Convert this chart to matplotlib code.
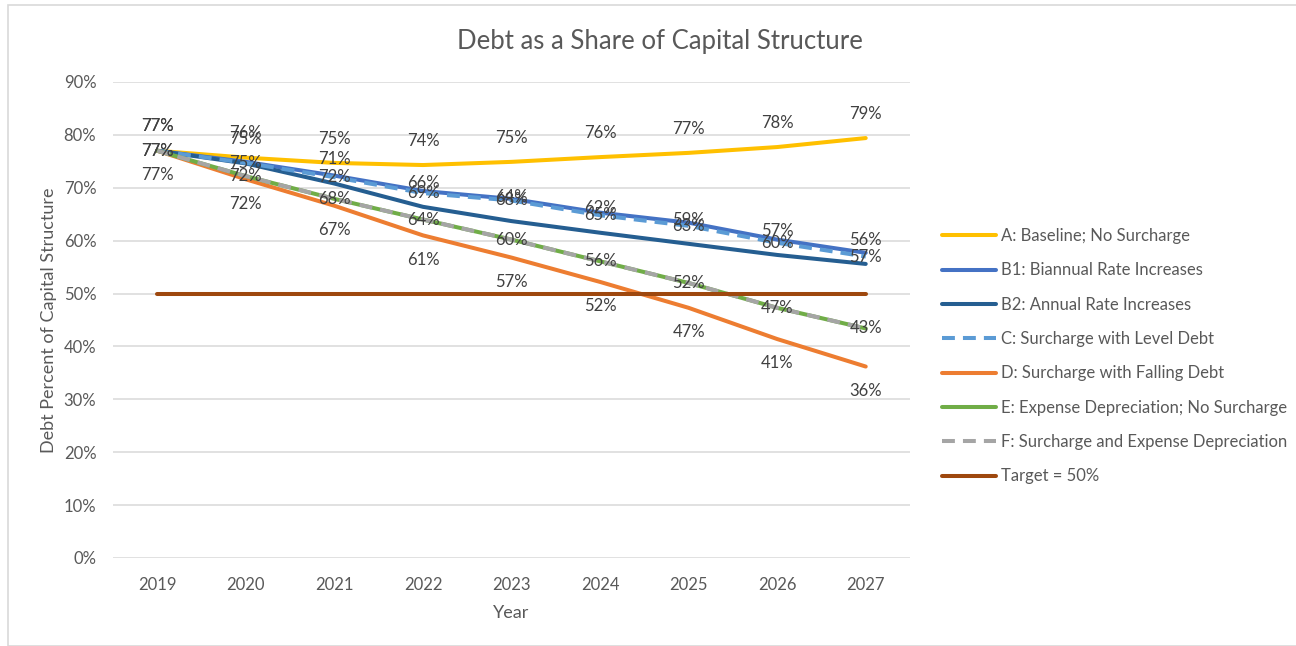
import matplotlib
matplotlib.use("Agg")
import matplotlib.pyplot as plt
from matplotlib.lines import Line2D
from matplotlib.patches import Rectangle

plt.rcParams['font.family'] = ['Lato', 'DejaVu Sans']

years = [2019, 2020, 2021, 2022, 2023, 2024, 2025, 2026, 2027]

a_baseline = [77.0, 75.7, 74.7, 74.3, 74.9, 75.8, 76.6, 77.7, 79.4]
b1_biannual = [77.0, 74.9, 72.3, 69.4, 67.9, 65.3, 63.4, 60.2, 57.7]
b2_annual = [77.0, 74.6, 70.8, 66.4, 63.7, 61.5, 59.4, 57.3, 55.6]
c_level_debt = [77.0, 74.7, 72.0, 69.0, 67.6, 64.8, 62.8, 59.6, 57.0]
d_falling_debt = [77.0, 71.6, 66.6, 61.0, 56.8, 52.2, 47.3, 41.4, 36.2]
e_expense_dep = [77.0, 72.2, 67.9, 64.0, 60.2, 56.1, 52.0, 47.3, 43.4]
f_surcharge_dep = [77.0, 72.2, 67.9, 64.0, 60.2, 56.1, 52.0, 47.3, 43.4]
target = [50.0] * 9

series = [
    ("A: Baseline; No Surcharge", a_baseline, "#FFC000", "-", "above"),
    ("B1: Biannual Rate Increases", b1_biannual, "#4472C4", "-", None),
    ("B2: Annual Rate Increases", b2_annual, "#255E91", "-", "above"),
    ("C: Surcharge with Level Debt", c_level_debt, "#5B9BD5", "--", "center"),
    ("D: Surcharge with Falling Debt", d_falling_debt, "#ED7D31", "-", "below"),
    ("E: Expense Depreciation; No Surcharge", e_expense_dep, "#70AD47", "-", None),
    ("F: Surcharge and Expense Depreciation", f_surcharge_dep, "#A5A5A5", "--", "center"),
    ("Target = 50%", target, "#9E480E", "-", None),
]

W, H = 1296, 646
fig = plt.figure(figsize=(W / 100, H / 100), dpi=100)
fig.patches.append(Rectangle((8 / W, 0), 1, 1 - 5 / H, transform=fig.transFigure,
                             fill=False, edgecolor="#D9D9D9", lw=1.2))

ax = fig.add_axes([113 / W, 1 - 558 / H, (910 - 113) / W, (558 - 82) / H])
x = list(range(len(years)))
text_col = "#595959"
lw = 2.9

handles = []
for name, vals, col, ls, pos in series:
    kw = dict(color=col, lw=lw, solid_capstyle="round", zorder=3)
    if ls == "--":
        kw.update(linestyle=(0, (3.2, 2.0)), dash_capstyle="butt")
    ax.plot(x, vals, **kw)
    handles.append(Line2D([0], [0], **kw))
    if pos:
        for xi, v in zip(x, vals):
            dy = {"above": 17.5, "center": 0, "below": -17.5}[pos]
            ax.annotate(f"{v:.0f}%", (xi, v), xytext=(0, dy), textcoords="offset points",
                        ha="center", va="center", fontsize=12, color="#404040", zorder=5)

ax.set_xlim(-0.5, len(years) - 0.5)
ax.set_ylim(0, 90)
ax.set_yticks(range(0, 91, 10))
ax.set_yticklabels([f"{t}%" for t in range(0, 91, 10)])
ax.set_xticks(x)
ax.set_xticklabels([str(y) for y in years])
ax.tick_params(length=0, labelsize=12, colors=text_col)
ax.tick_params(axis="y", pad=12)
ax.tick_params(axis="x", pad=14)
ax.grid(axis="y", color="#D9D9D9", lw=1.1, zorder=0)
for s in ax.spines.values():
    s.set_visible(False)

ax.set_xlabel("Year", fontsize=13, color=text_col, labelpad=8)
ax.set_ylabel("Debt Percent of Capital Structure", fontsize=13, color=text_col, labelpad=5)
fig.text(660 / W, 1 - 41 / H, "Debt as a Share of Capital Structure", ha="center", va="center",
         fontsize=18.5, color=text_col)

fig.legend(handles, [s[0] for s in series], loc="upper left",
           bbox_to_anchor=(927 / W, 1 - 213 / H), frameon=False,
           fontsize=12.0, handlelength=3.25, handletextpad=0.3, labelspacing=1.1,
           labelcolor=text_col)

fig.savefig("out.png", dpi=100, facecolor="white")
